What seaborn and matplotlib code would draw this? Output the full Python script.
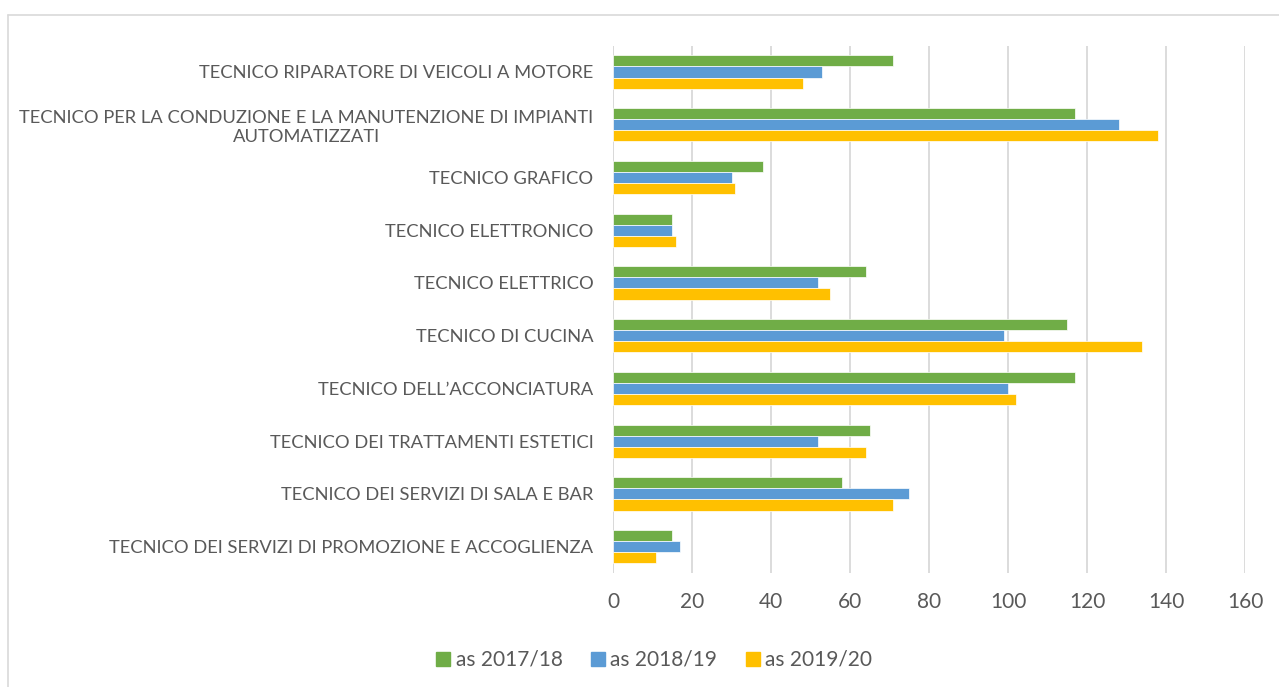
import pandas as pd
import numpy as np
import seaborn as sns
import matplotlib.pyplot as plt
from matplotlib.lines import Line2D

# data
corsi = [
    "TECNICO RIPARATORE DI VEICOLI A MOTORE",
    "TECNICO PER LA CONDUZIONE E LA MANUTENZIONE DI IMPIANTI\nAUTOMATIZZATI",
    "TECNICO GRAFICO",
    "TECNICO ELETTRONICO",
    "TECNICO ELETTRICO",
    "TECNICO DI CUCINA",
    "TECNICO DELL\u2019ACCONCIATURA",
    "TECNICO DEI TRATTAMENTI ESTETICI",
    "TECNICO DEI SERVIZI DI SALA E BAR",
    "TECNICO DEI SERVIZI DI PROMOZIONE E ACCOGLIENZA",
]
anni = ["as 2017/18", "as 2018/19", "as 2019/20"]
as_2017_18 = [71, 117, 38, 15, 64, 115, 117, 65, 58, 15]
as_2018_19 = [53, 128, 30, 15, 52, 99, 100, 52, 75, 17]
as_2019_20 = [48, 138, 31, 16, 55, 134, 102, 64, 71, 11]
colori = ["#70AD47", "#5B9BD5", "#FFC000"]

df = pd.DataFrame({"corso": corsi, anni[0]: as_2017_18,
                   anni[1]: as_2018_19, anni[2]: as_2019_20})
df = df.melt(id_vars="corso", var_name="anno", value_name="n")

sns.set_style("white")
plt.rcParams['font.family'] = ['Lato', 'DejaVu Sans']

fig = plt.figure(figsize=(12.79, 6.87), dpi=100)
ax = fig.add_axes([613/1279, 1 - 573/687, (1245-613)/1279, (573-45.6)/687])

sns.barplot(data=df, y="corso", x="n", hue="anno", order=corsi,
            hue_order=anni, palette=colori, saturation=1, orient="h",
            width=0.63, edgecolor="white", linewidth=0.5, legend=False,
            ax=ax, zorder=3)

ax.set_xlim(0, 160)
ax.set_xticks(range(0, 161, 20))
ax.xaxis.grid(True, color="#d9d9d9", linewidth=1.3, zorder=0)
ax.set_axisbelow(True)
sns.despine(ax=ax, left=True, bottom=True)
ax.axvline(0, color="#d9d9d9", linewidth=1.3, zorder=1)
ax.set_xlabel("")
ax.set_ylabel("")
ax.tick_params(axis="y", length=0, pad=14, labelsize=13.2, labelcolor="#595959")
ax.tick_params(axis="x", length=0, pad=14, labelsize=15, labelcolor="#595959")
for t in ax.get_yticklabels():
    t.set_multialignment("center")
    t.set_linespacing(1.25)

handles = [Line2D([], [], marker="s", linestyle="", color=c, markersize=10)
           for c in colori]
fig.legend(handles, anni, loc="center", bbox_to_anchor=(654/1279, 1 - 660/687),
           ncol=3, frameon=False, fontsize=15, labelcolor="#595959",
           handlelength=0.7, handletextpad=0.25, columnspacing=1.35)

# light border of the chart area
fig.add_artist(Line2D([8/1279, 8/1279], [0, 1 - 14.5/687], color="#d9d9d9",
                      linewidth=1.2, transform=fig.transFigure))
fig.add_artist(Line2D([8/1279, 1], [1 - 14.5/687, 1 - 14.5/687], color="#d9d9d9",
                      linewidth=1.2, transform=fig.transFigure))

fig.savefig("out.png", dpi=100)
